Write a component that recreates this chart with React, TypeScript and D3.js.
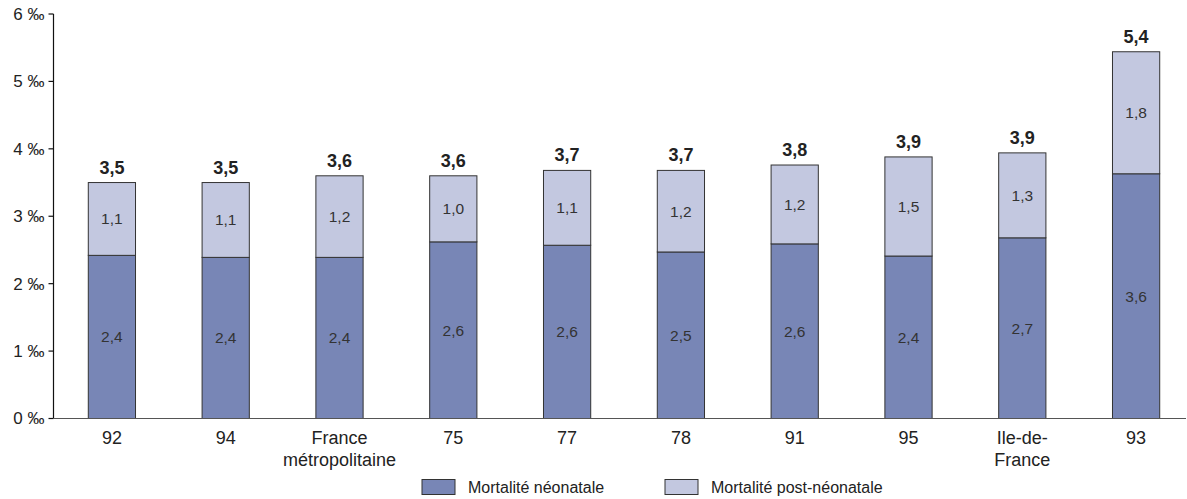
import React from "react";
import * as d3 from "d3";

// Départements / areas shown along the x axis (each label may span two lines)
const categories: string[][] = [
  ["92"],
  ["94"],
  ["France", "métropolitaine"],
  ["75"],
  ["77"],
  ["78"],
  ["91"],
  ["95"],
  ["Ile-de-", "France"],
  ["93"],
];

// Mortality rates, in ‰
const neonatale: number[] = [2.42, 2.39, 2.39, 2.62, 2.57, 2.47, 2.59, 2.41, 2.68, 3.63];
const postNeonatale: number[] = [1.08, 1.11, 1.21, 0.98, 1.11, 1.21, 1.17, 1.47, 1.26, 1.81];

const yTicks: number[] = [0, 1, 2, 3, 4, 5, 6];

const seriesNames = ["Mortalité néonatale", "Mortalité post-néonatale"];
const colors = ["#7886b6", "#c3c8e0"];

const W = 1187;
const H = 499;
const FONT = "'Liberation Sans', Arial, Helvetica, sans-serif";

const fmt = (v: number) => d3.format(".1f")(v).replace(".", ",");

export default function App() {
  const x = d3
    .scaleBand<number>()
    .domain(d3.range(categories.length))
    .range([55, 1193])
    .paddingInner(0.585)
    .paddingOuter(0.2925);
  const y = d3.scaleLinear().domain([0, 6]).range([418.5, 14]);
  const axisX = 53.5;
  const bw = x.bandwidth();

  return (
    <svg
      width={W}
      height={H}
      style={{ position: "absolute", left: 0, top: 0, background: "#fff" }}
      fontFamily={FONT}
    >
      {/* y axis */}
      <line x1={axisX} x2={axisX} y1={y(6)} y2={y(0)} stroke="#111" strokeWidth={1.2} />
      {yTicks.map((t) => (
        <g key={t}>
          <line x1={axisX - 5} x2={axisX} y1={y(t)} y2={y(t)} stroke="#111" strokeWidth={1.2} />
          <text
            x={axisX - 9}
            y={y(t)}
            dy="0.35em"
            textAnchor="end"
            fontSize={17}
            fill="#222"
          >
            {`${t} ‰`}
          </text>
        </g>
      ))}

      {/* stacked bars */}
      {categories.map((_, i) => {
        const x0 = x(i)!;
        const n = neonatale[i];
        const p = postNeonatale[i];
        const total = n + p;
        const cx = x0 + bw / 2;
        return (
          <g key={i}>
            <rect
              x={x0}
              y={y(n)}
              width={bw}
              height={y(0) - y(n)}
              fill={colors[0]}
              stroke="#333"
              strokeWidth={1}
            />
            <rect
              x={x0}
              y={y(total)}
              width={bw}
              height={y(n) - y(total)}
              fill={colors[1]}
              stroke="#333"
              strokeWidth={1}
            />
            <text
              x={cx}
              y={(y(0) + y(n)) / 2}
              dy="0.35em"
              textAnchor="middle"
              fontSize={15.5}
              fill="#333"
            >
              {fmt(n)}
            </text>
            <text
              x={cx}
              y={(y(n) + y(total)) / 2}
              dy="0.35em"
              textAnchor="middle"
              fontSize={15.5}
              fill="#333"
            >
              {fmt(p)}
            </text>
            <text
              x={cx}
              y={y(total) - 9}
              textAnchor="middle"
              fontSize={18}
              fontWeight="bold"
              fill="#222"
            >
              {fmt(total)}
            </text>
          </g>
        );
      })}

      {/* x axis */}
      <line x1={axisX} x2={1186} y1={y(0)} y2={y(0)} stroke="#555" strokeWidth={1.2} />
      {categories.map((lines, i) => (
        <text
          key={i}
          x={x(i)! + bw / 2}
          y={444}
          textAnchor="middle"
          fontSize={18}
          fill="#222"
        >
          {lines.map((l, k) => (
            <tspan key={k} x={x(i)! + bw / 2} dy={k === 0 ? 0 : 22}>
              {l}
            </tspan>
          ))}
        </text>
      ))}

      {/* legend */}
      {seriesNames.map((name, k) => {
        const lx = k === 0 ? 422 : 665;
        return (
          <g key={name}>
            <rect x={lx} y={479.5} width={33} height={15} fill={colors[k]} stroke="#333" strokeWidth={1} />
            <text x={lx + 46} y={493} fontSize={16} fill="#222">
              {name}
            </text>
          </g>
        );
      })}
    </svg>
  );
}
